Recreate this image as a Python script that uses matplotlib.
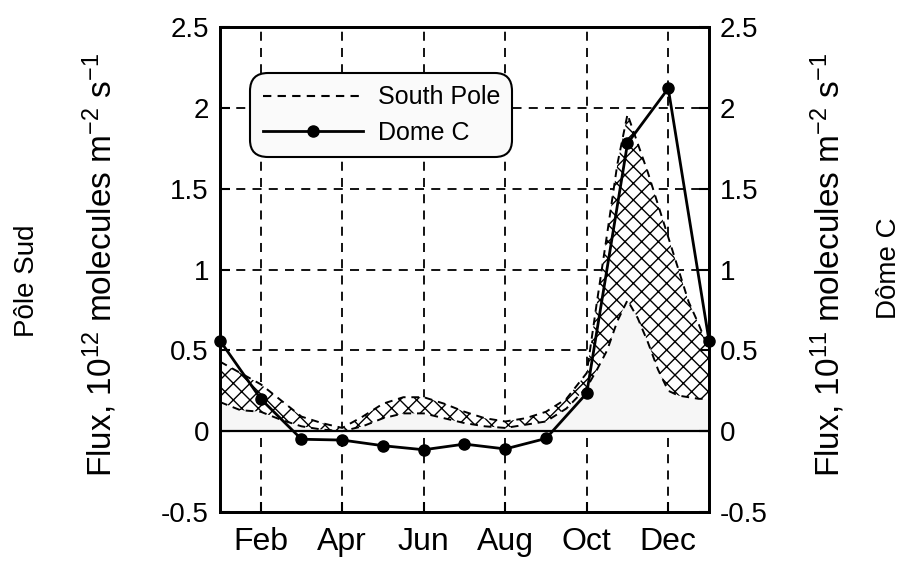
import matplotlib
matplotlib.use("Agg")
import matplotlib.pyplot as plt
from matplotlib.lines import Line2D
from matplotlib.ticker import FormatStrFormatter

plt.rcParams["font.family"] = ["Liberation Sans", "DejaVu Sans"]
plt.rcParams["mathtext.default"] = "regular"
plt.rcParams["axes.unicode_minus"] = False
plt.rcParams["hatch.linewidth"] = 1.0

# month axis: 1 = Jan ... 13 = Jan of next year
month_ticks = [2, 4, 6, 8, 10, 12]
month_labels = ["Feb", "Apr", "Jun", "Aug", "Oct", "Dec"]

# Dome C monthly flux (10^11 molecules m-2 s-1)
dome_months = [1, 2, 3, 4, 5, 6, 7, 8, 9, 10, 11, 12, 13]
dome_flux = [0.56, 0.20, -0.05, -0.055, -0.09, -0.115, -0.08, -0.11, -0.045, 0.235, 1.78, 2.12, 0.56]

# South Pole range (10^12 molecules m-2 s-1)
sp_months = [1, 1.5, 2, 2.5, 3, 3.5, 4, 4.5, 5, 5.5, 6, 6.5, 7, 7.5, 8, 8.5, 9, 9.5,
             10, 10.25, 10.5, 10.75, 11, 11.25, 11.5, 11.75, 12, 12.25, 12.5, 12.75, 13]
sp_upper = [0.43, 0.36, 0.29, 0.19, 0.09, 0.05, 0.02, 0.09, 0.17, 0.21, 0.21, 0.17, 0.12, 0.08,
            0.06, 0.08, 0.12, 0.20, 0.36, 0.80, 1.22, 1.65, 1.96, 1.78, 1.60, 1.40, 1.20, 1.00,
            0.80, 0.66, 0.50]
sp_lower = [0.18, 0.13, 0.12, 0.07, 0.03, 0.01, 0.00, 0.03, 0.08, 0.11, 0.11, 0.08, 0.05, 0.03,
            0.02, 0.04, 0.06, 0.14, 0.27, 0.38, 0.50, 0.68, 0.81, 0.70, 0.55, 0.38, 0.25, 0.22,
            0.21, 0.20, 0.20]

yticks = [-0.5, 0, 0.5, 1, 1.5, 2, 2.5]

fig = plt.figure(figsize=(9.04, 5.62), dpi=100)
ax = fig.add_axes([220 / 904, 1 - 512 / 562, 489 / 904, 485 / 562])

# light background under the band, then the hatched band with dashed edges
ax.fill_between(sp_months, 0, sp_lower, color="#f6f6f6", lw=0, zorder=1)
ax.fill_between(sp_months, sp_lower, sp_upper, facecolor="white", edgecolor="black",
                hatch="xx", lw=0, zorder=2)
ax.plot(sp_months, sp_upper, color="black", ls=(0, (4, 3)), lw=1.4, zorder=3)
ax.plot(sp_months, sp_lower, color="black", ls=(0, (4, 3)), lw=1.4, zorder=3)

ax.axhline(0, color="black", lw=1.6, zorder=3)
ax.plot(dome_months, dome_flux, color="black", lw=2, marker="o", ms=8,
        zorder=5, clip_on=False)

ax.set_xlim(1, 13)
ax.set_ylim(-0.5, 2.5)
ax.set_xticks(month_ticks)
ax.set_xticklabels(month_labels)
ax.set_yticks(yticks)
ax.yaxis.set_major_formatter(FormatStrFormatter("%g"))
ax.grid(True, color="black", ls=(0, (5, 4)), lw=1.3)
ax.set_axisbelow(True)
ax.tick_params(direction="in", length=7, width=1.5, labelsize=20, pad=8)
ax.tick_params(axis="x", labelsize=23, pad=11)
for s in ax.spines.values():
  s.set_linewidth(2)

ax2 = ax.twinx()
ax2.set_ylim(-0.5, 2.5)
ax2.set_yticks(yticks)
ax2.yaxis.set_major_formatter(FormatStrFormatter("%g"))
ax2.tick_params(direction="in", length=7, width=1.5, labelsize=20, pad=8)
for s in ax2.spines.values():
  s.set_linewidth(2)

fig.text(100 / 904, 1 - 265 / 562, "Flux, 10$^{12}$ molecules m$^{-2}$ s$^{-1}$",
         rotation=90, ha="center", va="center", fontsize=24)
fig.text(27 / 904, 1 - 281 / 562, "Pôle Sud", rotation=90, ha="center", va="center",
         fontsize=20)
fig.text(828 / 904, 1 - 265 / 562, "Flux, 10$^{11}$ molecules m$^{-2}$ s$^{-1}$",
         rotation=90, ha="center", va="center", fontsize=24)
fig.text(889 / 904, 1 - 268 / 562, "Dôme C", rotation=90, ha="center", va="center",
         fontsize=20)

handles = [
  Line2D([], [], color="black", ls=(0, (4, 3)), lw=1.5),
  Line2D([], [], color="black", lw=2, marker="o", ms=8),
]
leg = ax2.legend(handles, ["South Pole", "Dome C"], loc="upper left",
                 bbox_to_anchor=(30 / 489, (512 - 73) / 485), borderaxespad=0,
                 fontsize=18, fancybox=True, framealpha=1, facecolor="#fafafa",
                 edgecolor="black", handlelength=4.0, borderpad=0.5, labelspacing=0.45,
                 handletextpad=0.6)
leg.get_frame().set_linewidth(1.5)
leg.get_frame().set_boxstyle("round,pad=0,rounding_size=0.7")

fig.savefig("out.png", dpi=100)
